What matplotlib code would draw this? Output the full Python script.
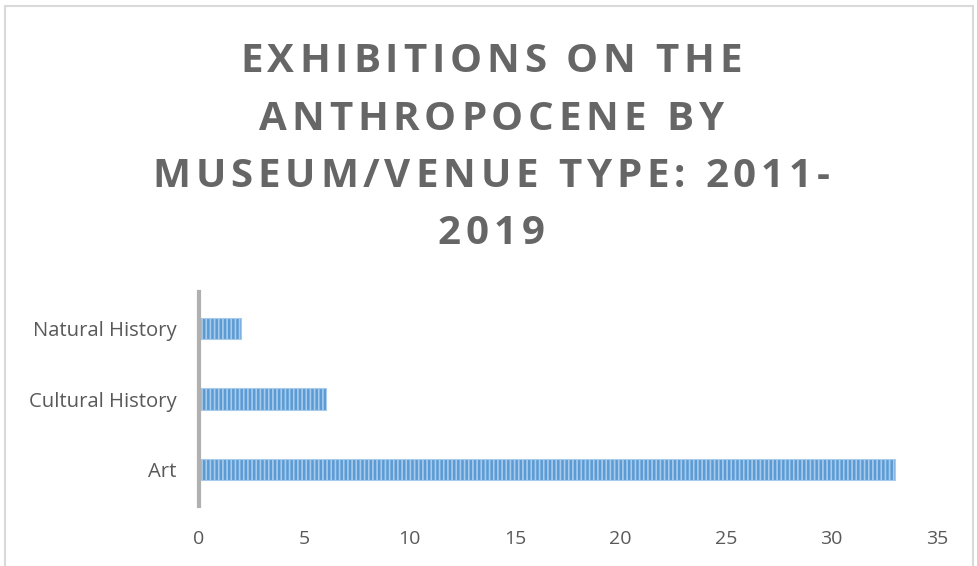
import matplotlib.pyplot as plt
from matplotlib.patches import Rectangle

categories = ['Art', 'Cultural History', 'Natural History']
counts = [33, 6, 2]
xticks = [0, 5, 10, 15, 20, 25, 30, 35]
title_lines = ['EXHIBITIONS ON THE', 'ANTHROPOCENE BY', 'MUSEUM/VENUE TYPE: 2011-', '2019']

plt.rcParams['font.family'] = ['Open Sans', 'DejaVu Sans']
plt.rcParams['hatch.linewidth'] = 1.2

W, H = 978, 566
fig = plt.figure(figsize=(W / 100, H / 100), dpi=100)
fig.patches.append(Rectangle((0.005, -0.01), 0.99, 1.0, transform=fig.transFigure,
                             fill=False, edgecolor='#d9d9d9', linewidth=1.5))

ax = fig.add_axes([199/W, 1 - 506/H, (937-199)/W, (506-292)/H])
bars = ax.barh(categories, counts, height=0.3, color='#5b9bd5',
               edgecolor='#a9cbeb', hatch='||||', linewidth=0.8)

ax.set_xlim(0, 35)
ax.set_ylim(-0.52, 2.52)
ax.set_xticks(xticks)
for s in ['top', 'right', 'bottom']:
    ax.spines[s].set_visible(False)
ax.spines['left'].set_color('#b0b0b0')
ax.spines['left'].set_linewidth(3)
ax.tick_params(axis='both', length=0, colors='#595959', labelsize=14)
ax.tick_params(axis='y', labelsize=14.6, pad=16)
ax.tick_params(axis='x', pad=17)

# title with extra letter spacing, placed char by char
renderer = fig.canvas.get_renderer()
tkw = dict(fontsize=29, fontweight='bold', color='#666666')
spacing = 4.8
baselines = [72, 130, 187, 244]

def char_width(c):
    a = fig.text(0, 0, 'H' + c + 'H', **tkw)
    b = fig.text(0, 0, 'HH', **tkw)
    w = a.get_window_extent(renderer).width - b.get_window_extent(renderer).width
    a.remove()
    b.remove()
    return w

for line, yb in zip(title_lines, baselines):
    widths = [char_width(c) for c in line]
    total = sum(widths) + spacing * (len(line) - 1)
    x = 491 - total / 2
    for c, w in zip(line, widths):
        if c != ' ':
            fig.text(x / W, 1 - yb / H, c, ha='left', va='baseline', **tkw)
        x += w + spacing

fig.savefig('out.png', dpi=100)
